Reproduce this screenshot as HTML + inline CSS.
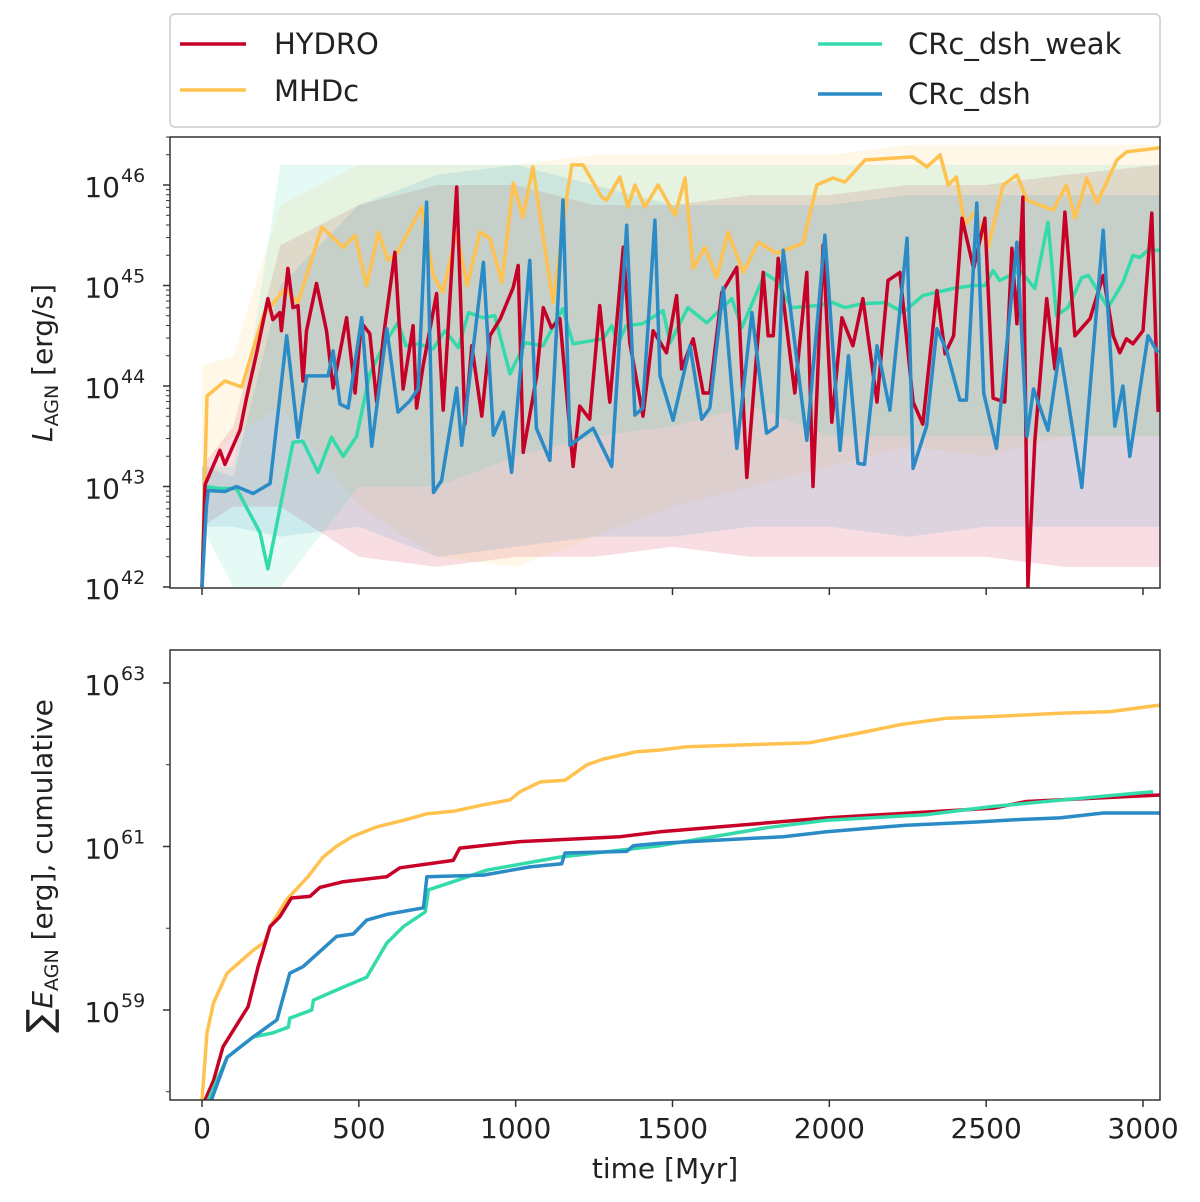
<!DOCTYPE html>
<html><head><meta charset="utf-8"><style>
html,body{margin:0;padding:0;background:#fff;}
svg{display:block;font-family:"DejaVu Sans","Liberation Sans",sans-serif;}
</style></head><body>
<svg id="chart" width="1200" height="1202" viewBox="0 0 1200 1202" xmlns="http://www.w3.org/2000/svg">
<defs>
<clipPath id="clipTop"><rect x="170" y="137" width="990" height="451"/></clipPath>
<clipPath id="clipBot"><rect x="170" y="650" width="990" height="450"/></clipPath>
</defs>
<g id="bands" clip-path="url(#clipTop)"></g>
<g id="topLines" clip-path="url(#clipTop)"></g>
<g id="botLines" clip-path="url(#clipBot)"></g>
<rect x="170" y="137" width="990" height="451" fill="none" stroke="#333" stroke-width="1.5"/>
<rect x="170" y="650" width="990" height="450" fill="none" stroke="#333" stroke-width="1.5"/>
<g id="axes"></g>
<text x="0" y="0" transform="translate(52,363) rotate(-90)" text-anchor="middle" font-size="28" fill="#222"><tspan font-style="italic">L</tspan><tspan font-size="19" dy="6">AGN</tspan><tspan dy="-6"> [erg/s]</tspan></text>
<text x="0" y="0" transform="translate(52,866) rotate(-90)" text-anchor="middle" font-size="28" fill="#222"><tspan font-size="36">∑</tspan><tspan font-style="italic">E</tspan><tspan font-size="19" dy="6">AGN</tspan><tspan dy="-6"> [erg], cumulative</tspan></text>
<text x="665" y="1178" text-anchor="middle" font-size="28" fill="#222">time [Myr]</text>
<g>
<rect x="170" y="14" width="990" height="113" rx="5" fill="#fff" stroke="#ccc" stroke-width="1.5"/>
<line x1="180" y1="44" x2="246" y2="44" stroke="#c70028" stroke-width="3.5"/>
<text x="274" y="54" font-size="29" fill="#222">HYDRO</text>
<line x1="180" y1="90" x2="246" y2="90" stroke="#ffc24f" stroke-width="3.5"/>
<text x="274" y="101" font-size="29" fill="#222">MHDc</text>
<line x1="818" y1="44" x2="882" y2="44" stroke="#34dbaa" stroke-width="3.5"/>
<text x="908" y="54" font-size="29" fill="#222">CRc_dsh_weak</text>
<line x1="818" y1="94" x2="882" y2="94" stroke="#2a8bc6" stroke-width="3.5"/>
<text x="908" y="104" font-size="29" fill="#222">CRc_dsh</text>
</g>
</svg>
<script>
// ---- data: top panel log10(L_AGN) ----
const yellowT = [0,8,16,73,127,195,265,306,382,450,488,525,562,593,621,700,737,768,812,845,886,918,956,992,1023,1055,1119,1163,1179,1215,1274,1290,1332,1358,1380,1412,1454,1508,1540,1566,1603,1641,1677,1725,1773,1833,1916,1960,2011,2050,2114,2267,2311,2353,2379,2405,2432,2464,2506,2554,2598,2630,2714,2756,2783,2821,2853,2917,2948,3054];
const yellowL = [42.0,43.0,43.9,44.05,43.99,44.7,44.97,44.83,45.58,45.38,45.5,45.0,45.53,45.25,45.32,45.78,45.1,44.93,45.53,45.0,45.53,45.47,45.03,46.02,45.68,46.18,44.83,45.88,46.2,46.2,45.88,45.85,46.08,45.78,46.0,45.78,46.0,45.7,46.07,45.17,45.38,45.08,45.53,45.13,45.43,45.32,45.42,46.0,46.07,46.03,46.25,46.28,46.18,46.3,46.0,46.08,45.6,45.73,45.38,46.0,46.1,45.85,45.75,46.0,45.67,46.07,45.82,46.25,46.33,46.37];
const greenT = [0,10,57,110,185,210,290,322,370,413,450,493,535,583,625,650,690,737,775,817,850,896,933,982,1030,1087,1150,1183,1279,1306,1326,1352,1405,1470,1492,1549,1609,1689,1721,1795,1830,1880,1960,2011,2050,2107,2180,2235,2298,2394,2458,2496,2522,2543,2608,2655,2697,2724,2761,2805,2826,2888,2936,2968,2990,3016,3054];
const greenL = [42.0,43.0,42.98,42.98,42.54,42.18,43.44,43.45,43.14,43.49,43.3,43.5,44.12,44.43,44.63,44.4,44.42,44.37,44.55,44.38,44.73,44.68,44.7,44.12,44.43,44.4,44.77,44.42,44.47,44.6,44.42,44.6,44.62,44.75,44.43,44.78,44.63,44.87,44.58,45.12,45.05,44.78,44.8,44.83,44.78,44.82,44.83,44.73,44.9,44.97,45.0,45.0,45.15,45.05,45.15,44.97,45.63,44.7,44.78,45.08,45.1,44.78,45.03,45.3,45.28,45.35,45.35];
const redT = [0,10,57,73,121,142,175,210,226,248,253,274,290,306,322,333,365,397,418,461,488,508,535,557,578,615,641,673,684,705,748,769,812,838,860,892,918,951,992,1008,1024,1067,1088,1114,1141,1183,1204,1236,1268,1300,1343,1364,1406,1438,1481,1513,1529,1566,1598,1619,1657,1705,1737,1789,1805,1821,1837,1890,1928,1948,1980,2008,2040,2075,2107,2152,2187,2225,2267,2298,2343,2369,2396,2423,2460,2496,2522,2559,2582,2598,2617,2633,2655,2693,2719,2751,2783,2831,2873,2905,2926,2947,2968,3000,3028,3048];
const redL = [42.0,43.02,43.36,43.22,43.56,43.88,44.34,44.87,44.66,44.73,44.55,45.17,44.78,44.8,44.05,44.55,45.02,44.55,43.98,44.68,43.93,44.63,44.52,43.84,44.48,45.33,43.97,44.6,43.78,44.2,44.92,43.76,45.98,43.62,44.4,43.7,44.5,44.67,44.98,45.2,43.34,44.1,44.78,44.58,44.67,43.2,43.8,43.67,44.8,43.84,45.38,44.43,43.7,44.55,44.33,44.9,44.17,44.47,43.93,43.93,44.93,45.18,43.09,45.13,44.5,44.5,45.27,43.93,45.13,43.0,45.4,43.64,44.68,44.4,44.87,43.84,45.05,45.13,43.84,43.62,44.95,44.32,44.5,45.67,45.17,45.67,43.88,43.84,45.37,44.62,45.88,42.0,43.45,44.87,44.17,45.73,44.5,44.67,45.1,44.5,44.33,44.47,44.42,44.55,45.72,43.74];
const blueT = [0,14,20,73,110,163,217,270,306,334,376,402,418,440,466,509,541,589,625,662,689,716,738,764,812,828,897,929,961,987,1045,1066,1109,1151,1173,1247,1306,1354,1380,1405,1444,1460,1502,1556,1593,1619,1662,1705,1753,1800,1833,1853,1928,1986,2034,2061,2091,2112,2152,2193,2248,2267,2310,2343,2374,2416,2437,2470,2492,2533,2598,2630,2651,2697,2735,2805,2873,2910,2936,2958,3016,3048];
const blueL = [42.0,42.8,42.96,42.95,43.0,42.93,43.03,44.5,43.49,44.1,44.1,44.1,44.35,43.82,43.78,44.68,43.4,44.57,43.74,43.85,43.97,45.83,42.94,43.06,43.98,43.41,45.23,43.51,43.74,43.14,45.25,43.58,43.26,45.85,43.41,43.58,43.2,45.6,43.71,43.78,45.65,44.1,43.66,44.4,43.67,43.78,44.98,43.38,44.73,43.53,43.6,45.35,43.46,45.5,43.36,44.3,43.23,43.22,44.4,43.76,45.47,43.18,43.6,44.57,44.35,43.86,43.86,45.82,43.93,43.38,45.43,43.5,43.97,43.56,44.37,42.99,45.55,43.6,44.0,43.3,44.5,44.33];
// ---- faint scatter bands (log10 L) ----
const bandT = [0,100,250,500,750,1000,1250,1500,1750,2000,2250,2500,2750,3054];
const redHi = [43.2,43.6,45.4,45.8,46.0,46.0,45.8,45.8,45.9,45.9,46.0,46.0,46.1,46.2];
const redLo = [42.6,42.8,42.8,42.3,42.2,42.3,42.3,42.4,42.3,42.3,42.3,42.3,42.2,42.2];
const yellowHi = [44.2,44.3,45.8,46.2,46.2,46.2,46.3,46.3,46.3,46.3,46.4,46.4,46.4,46.4];
const yellowLo = [43.2,43.5,43.8,42.8,42.3,42.2,42.5,42.8,43.0,43.2,43.4,43.3,43.5,43.5];
const greenHi = [43.2,43.2,46.2,46.2,46.2,46.2,46.2,46.2,46.2,46.2,46.2,46.2,46.2,46.2];
const greenLo = [42.6,42.0,42.0,43.0,43.0,43.3,43.5,43.6,43.8,43.5,43.5,43.5,43.5,43.5];
const blueHi = [43.2,43.1,45.0,45.8,46.1,46.2,46.0,45.8,45.8,45.8,45.9,45.9,45.9,45.9];
const blueLo = [42.6,42.6,42.5,42.6,42.3,42.4,42.5,42.5,42.6,42.6,42.5,42.6,42.6,42.6];
// ---- data: bottom panel log10(cumulative E) ----
const eYellowT = [0,16,37,80,163,200,217,270,338,386,428,478,557,642,717,801,897,982,1014,1078,1157,1227,1280,1386,1460,1545,1938,2098,2225,2375,2524,2735,2895,3054];
const eYellowL = [57.9,58.72,59.09,59.45,59.73,59.83,60.02,60.35,60.63,60.87,61.0,61.12,61.24,61.32,61.4,61.43,61.51,61.57,61.67,61.79,61.81,62.0,62.07,62.16,62.18,62.22,62.27,62.39,62.49,62.57,62.59,62.63,62.65,62.73];
const eRedT = [10,37,67,147,179,217,248,285,344,376,450,589,631,801,822,1014,1333,1460,1992,2522,2629,3054];
const eRedL = [57.9,58.14,58.55,59.04,59.53,60.02,60.14,60.37,60.39,60.5,60.57,60.63,60.74,60.83,60.98,61.06,61.12,61.18,61.35,61.47,61.55,61.63];
const eBlueT = [30,80,163,239,280,322,429,482,525,589,706,717,897,1046,1147,1157,1354,1375,1460,1853,1992,2245,2469,2608,2735,2873,3054];
const eBlueL = [57.9,58.42,58.67,58.88,59.45,59.53,59.9,59.93,60.1,60.17,60.25,60.63,60.65,60.75,60.79,60.92,60.94,61.01,61.04,61.12,61.18,61.26,61.3,61.33,61.35,61.41,61.41];
const eGreenT = [20,80,163,226,275,280,350,355,450,525,589,642,712,722,801,907,1140,1460,1800,1992,2310,2522,3032];
const eGreenL = [57.9,58.42,58.67,58.72,58.79,58.9,59.0,59.12,59.28,59.4,59.82,60.02,60.2,60.47,60.57,60.71,60.87,61.01,61.23,61.32,61.39,61.49,61.67];
const xTicks = [0,500,1000,1500,2000,2500,3000];
const topTicks = [42,43,44,45,46];
const botTicks = [59,61,63];

const NS = "http://www.w3.org/2000/svg";
function X(t){ return 202 + t*0.31367; }
function YT(l){ return 587 - (l-42)*100.5; }
function YB(l){ return 1010 - (l-59)*81.75; }
function mk(tag, parent){ const e=document.createElementNS(NS,tag); parent.appendChild(e); return e; }
function pathOf(T,L,Y){ return T.map((t,i)=>(i?"L":"M")+X(t).toFixed(1)+","+Y(L[i]).toFixed(1)).join(""); }

const bandsG = document.getElementById("bands");
[[redLo,redHi,"#c70028"],[yellowLo,yellowHi,"#ffc24f"],[greenLo,greenHi,"#34dbaa"],[blueLo,blueHi,"#2a8bc6"]].forEach(b=>{
  const p = mk("path", bandsG);
  let d = bandT.map((t,i)=>(i?"L":"M")+X(t).toFixed(1)+","+YT(b[1][i]).toFixed(1)).join("");
  for(let i=bandT.length-1;i>=0;i--) d += "L"+X(bandT[i]).toFixed(1)+","+YT(b[0][i]).toFixed(1);
  p.setAttribute("d", d+"Z");
  p.setAttribute("fill", b[2]);
  p.setAttribute("fill-opacity", "0.13");
  
  
});

const topG = document.getElementById("topLines");
[[yellowT,yellowL,"#ffc24f"],[greenT,greenL,"#34dbaa"],[redT,redL,"#c70028"],[blueT,blueL,"#2a8bc6"]].forEach(s=>{
  const p = mk("path", topG);
  p.setAttribute("d", pathOf(s[0],s[1],YT));
  p.setAttribute("fill","none"); p.setAttribute("stroke", s[2]); p.setAttribute("stroke-width","3.5");
  p.setAttribute("stroke-linejoin","round");
  
  
});

const botG = document.getElementById("botLines");
[[eYellowT,eYellowL,"#ffc24f"],[eRedT,eRedL,"#c70028"],[eGreenT,eGreenL,"#34dbaa"],[eBlueT,eBlueL,"#2a8bc6"]].forEach(s=>{
  const p = mk("path", botG);
  p.setAttribute("d", pathOf(s[0],s[1],YB));
  p.setAttribute("fill","none"); p.setAttribute("stroke", s[2]); p.setAttribute("stroke-width","3.5");
  p.setAttribute("stroke-linejoin","round");
  
  
});

const axG = document.getElementById("axes");
function line(x1,y1,x2,y2,w){ const l=mk("line",axG); l.setAttribute("x1",x1); l.setAttribute("y1",y1); l.setAttribute("x2",x2); l.setAttribute("y2",y2); l.setAttribute("stroke","#333"); l.setAttribute("stroke-width",w); return l; }
xTicks.forEach(t=>{
  const a = line(X(t),588,X(t),595,1.5);
  
  
  const b = line(X(t),1100,X(t),1107,1.5);
  
  
  const tx = mk("text", axG);
  tx.setAttribute("x", X(t)); tx.setAttribute("y", 1138); tx.setAttribute("text-anchor","middle");
  tx.setAttribute("font-size","28"); tx.setAttribute("fill","#222");
  tx.textContent = t;
  
  
});
function yLabel(y, e){
  const tx = mk("text", axG);
  tx.setAttribute("x", 120); tx.setAttribute("y", y+12); tx.setAttribute("text-anchor","end");
  tx.setAttribute("font-size","28"); tx.setAttribute("fill","#222");
  tx.textContent = "10";
  
  
  const sp = mk("text", axG);
  sp.setAttribute("x", 121); sp.setAttribute("y", y-3);
  sp.setAttribute("font-size","19"); sp.setAttribute("fill","#222");
  sp.textContent = e;
  
  
}
topTicks.forEach(l=>{
  const y = YT(l);
  const a = line(163,y,170,y,1.5);
  
  
  yLabel(y, l);
  if(l<46) for(let m=2;m<10;m++){ const ym=YT(l+Math.log10(m)); const mm=line(166,ym,170,ym,1);   }
});
for(let m=2;m<4;m++){ const ym=YT(46+Math.log10(m)); const mm=line(166,ym,170,ym,1);   }
botTicks.forEach(l=>{
  const y = YB(l);
  const a = line(163,y,170,y,1.5);
  
  
  yLabel(y, l);
});
[58,60,62].forEach(l=>{ const y=YB(l); const mm=line(166,y,170,y,1);   });
</script>
</body></html>
